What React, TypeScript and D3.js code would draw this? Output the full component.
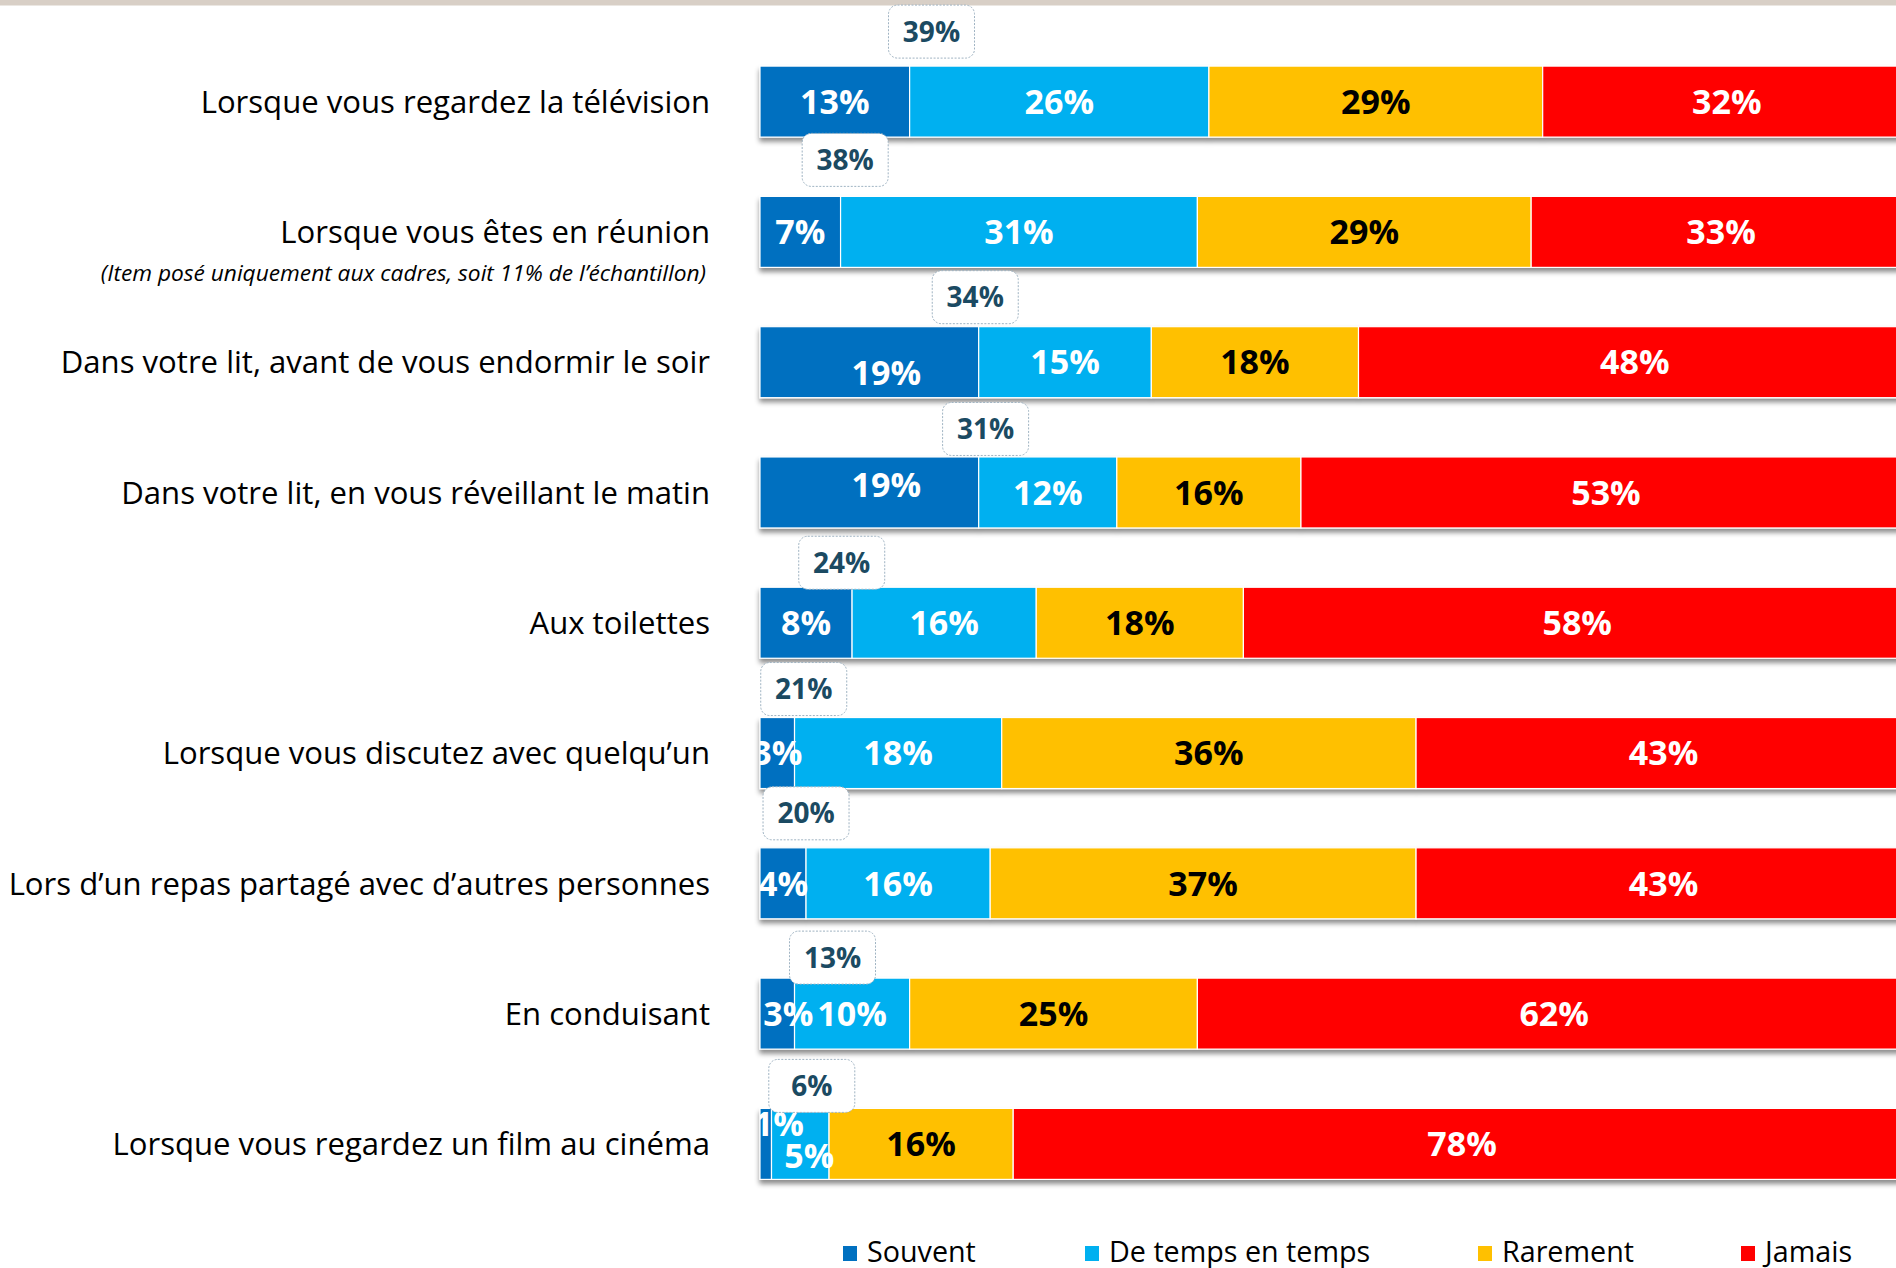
import React from "react";
import * as d3 from "d3";

const categories = [
  "Lorsque vous regardez la télévision",
  "Lorsque vous êtes en réunion",
  "Dans votre lit, avant de vous endormir le soir",
  "Dans votre lit, en vous réveillant le matin",
  "Aux toilettes",
  "Lorsque vous discutez avec quelqu’un",
  "Lors d’un repas partagé avec d’autres personnes",
  "En conduisant",
  "Lorsque vous regardez un film au cinéma",
];
const subtitles = ["", "(Item posé uniquement aux cadres, soit 11% de l’échantillon)", "", "", "", "", "", "", ""];

const seriesNames = ["Souvent", "De temps en temps", "Rarement", "Jamais"];
const souvent = [13, 7, 19, 19, 8, 3, 4, 3, 1];
const deTempsEnTemps = [26, 31, 15, 12, 16, 18, 16, 10, 5];
const rarement = [29, 29, 18, 16, 18, 36, 37, 25, 16];
const jamais = [32, 33, 48, 53, 58, 43, 43, 62, 78];

// "Souvent + De temps en temps" call-outs and where they sit along the value axis (in %)
const callouts = [39, 38, 34, 31, 24, 21, 20, 13, 6];
const calloutAnchor = [14.9, 7.4, 18.7, 19.6, 7.1, 3.8, 4.0, 6.3, 4.5];

const colors = ["#0070C0", "#00B0F0", "#FFC000", "#FF0000"];
const labelColors = ["#ffffff", "#ffffff", "#000000", "#ffffff"];

// manual nudges of a few value labels (row-series -> [dx, dy] px)
const labelNudges: Record<string, [number, number]> = {
  "2-0": [17, 11],
  "3-0": [17, -8],
  "7-0": [11, 0],
  "8-0": [13, -20],
  "8-1": [9, 12],
};
// how far above each bar's centre its call-out box sits (px)
const calloutLift = [70, 72, 65, 63.5, 60, 64, 70, 56, 58];

const W = 1896;
const H = 1268;
const FONT = "'Open Sans', 'Noto Sans', sans-serif";

export default function App() {
  const table = categories.map((c, i) => ({
    cat: c,
    [seriesNames[0]]: souvent[i],
    [seriesNames[1]]: deTempsEnTemps[i],
    [seriesNames[2]]: rarement[i],
    [seriesNames[3]]: jamais[i],
  }));
  const stacked = d3.stack<any>().keys(seriesNames)(table);

  const x = d3.scaleLinear().domain([0, 100]).range([760, 1911]);
  const y = d3.scalePoint<string>().domain(categories).range([101.6, 1143.9]);
  const barH = 71;
  const valFont = 34;
  const catFont = 31.1;
  const labelRight = 710;

  const legendX = [843, 1085, 1478, 1741];

  return (
    <svg
      width={W}
      height={H}
      style={{ position: "absolute", left: 0, top: 0, background: "#fff" }}
      fontFamily={FONT}
    >
      <defs>
        <filter id="shadow" x="-5%" y="-30%" width="110%" height="170%">
          <feDropShadow dx="0" dy="4" stdDeviation="2.6" floodColor="#000" floodOpacity="0.45" />
        </filter>
        <clipPath id="barClip">
          <rect x={x(0)} y={0} width={W - x(0)} height={H} />
        </clipPath>
      </defs>

      <rect x={0} y={0} width={W} height={5.5} fill="#d8cfc6" />

      {/* category labels */}
      {categories.map((c, i) => {
        const cy = y(c)!;
        return (
          <g key={c}>
            <text
              x={labelRight}
              y={cy + catFont * 0.36}
              textAnchor="end"
              fontSize={catFont}
              fill="#000"
            >
              {c}
            </text>
            {subtitles[i] && (
              <text x={706} y={cy + 49} textAnchor="end" fontSize={22.7} fontStyle="italic" fill="#000">
                {subtitles[i]}
              </text>
            )}
          </g>
        );
      })}

      {/* bars */}
      {categories.map((c, i) => (
        <g key={"bar" + i} filter="url(#shadow)">
          {stacked.map((s, k) => (
            <rect
              key={k}
              x={x(s[i][0])}
              y={y(c)! - barH / 2}
              width={x(s[i][1]) - x(s[i][0])}
              height={barH}
              fill={colors[k]}
              stroke="#fff"
              strokeWidth={1.2}
            />
          ))}
        </g>
      ))}

      {/* value labels */}
      <g clipPath="url(#barClip)">
        {categories.map((c, i) =>
          stacked.map((s, k) => {
            const v = s[i][1] - s[i][0];
            const nudge = labelNudges[`${i}-${k}`] || [0, 0];
            return (
              <text
                key={`${i}-${k}`}
                x={(x(s[i][0]) + x(s[i][1])) / 2 + nudge[0]}
                y={y(c)! + nudge[1] + valFont * 0.36}
                textAnchor="middle"
                fontSize={valFont}
                fontWeight="bold"
                fill={labelColors[k]}
              >
                {v}%
              </text>
            );
          })
        )}
      </g>

      {/* call-outs */}
      {categories.map((c, i) => {
        const cx = x(calloutAnchor[i]);
        const cy = y(c)! - calloutLift[i];
        return (
          <g key={"co" + i}>
            <rect
              x={cx - 43}
              y={cy - 26.5}
              width={86}
              height={53}
              rx={9}
              fill="#fff"
              stroke="#9fb3c2"
              strokeWidth={1}
              strokeDasharray="2 1.5"
            />
            <text
              x={cx}
              y={cy + 28 * 0.36}
              textAnchor="middle"
              fontSize={28}
              fontWeight="bold"
              fill="#1b4a62"
            >
              {callouts[i]}%
            </text>
          </g>
        );
      })}

      {/* legend */}
      {seriesNames.map((n, k) => (
        <g key={n}>
          <rect x={legendX[k]} y={1246} width={14} height={15} fill={colors[k]} />
          <text x={legendX[k] + 24} y={1262} fontSize={28.7} fill="#000">
            {n}
          </text>
        </g>
      ))}
    </svg>
  );
}
